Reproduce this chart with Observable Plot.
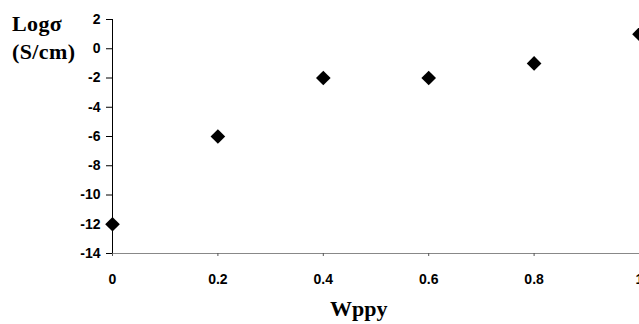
<!DOCTYPE html>
<html>
<head>
<meta charset="utf-8">
<script src="https://cdn.jsdelivr.net/npm/d3@7"></script>
<script src="https://cdn.jsdelivr.net/npm/@observablehq/plot@0.6"></script>
<style>
  html, body { margin: 0; padding: 0; background: #fff; }
  #wrap { position: relative; width: 639px; height: 324px; overflow: hidden; }
  .ttl { position: absolute; font-family: "Liberation Serif", "Times New Roman", serif; font-weight: bold; color: #000; white-space: nowrap; }
</style>
</head>
<body>
<div id="wrap">
  <div class="ttl" id="ylab" style="left:12px; top:10px; font-size:22px; line-height:28px; letter-spacing:0.4px;">Logσ<br>(S/cm)</div>
  <div class="ttl" id="xlab" style="left:330px; top:298px; font-size:22px; line-height:22px;">Wppy</div>
</div>
<script>
const wppy = [0, 0.2, 0.4, 0.6, 0.8, 1];
const logSigma = [-12, -6, -2, -2, -1, 1];
const xTicks = [0, 0.2, 0.4, 0.6, 0.8, 1];
const yTicks = [-14, -12, -10, -8, -6, -4, -2, 0, 2];

const data = wppy.map((w, i) => ({w, s: logSigma[i]}));

const chart = Plot.plot({
  width: 639,
  height: 324,
  marginLeft: 112,
  marginRight: 0,
  marginTop: 19,
  marginBottom: 71,
  style: {fontFamily: "Liberation Sans, Arial, sans-serif", fontSize: "14px", fontWeight: "bold", color: "#000", background: "transparent", overflow: "visible"},
  x: {domain: [0, 1]},
  y: {domain: [-14, 2]},
  marks: [
    Plot.ruleY([-14], {stroke: "#888", strokeWidth: 1}),
    Plot.ruleX([0], {y1: -14, y2: 2, stroke: "#000", strokeWidth: 1}),
    Plot.axisX({ticks: xTicks, tickSize: 3, tickPadding: 18, tickFormat: d => String(d), label: null, stroke: "#555", fontSize: 14}),
    Plot.axisY({ticks: yTicks, tickSize: 6, tickPadding: 6, tickFormat: d => String(d), label: null, stroke: "#000", fontSize: 14}),
    Plot.dot(data, {x: "w", y: "s", symbol: "diamond2", r: 6.6, fill: "#000", stroke: "none"})
  ]
});
d3.select(chart).selectAll("text").style("font-size", "14px").style("font-weight", "bold");
document.getElementById("wrap").prepend(chart);
chart.style.position = "absolute";
chart.style.left = "0";
chart.style.top = "0";
</script>
</body>
</html>
